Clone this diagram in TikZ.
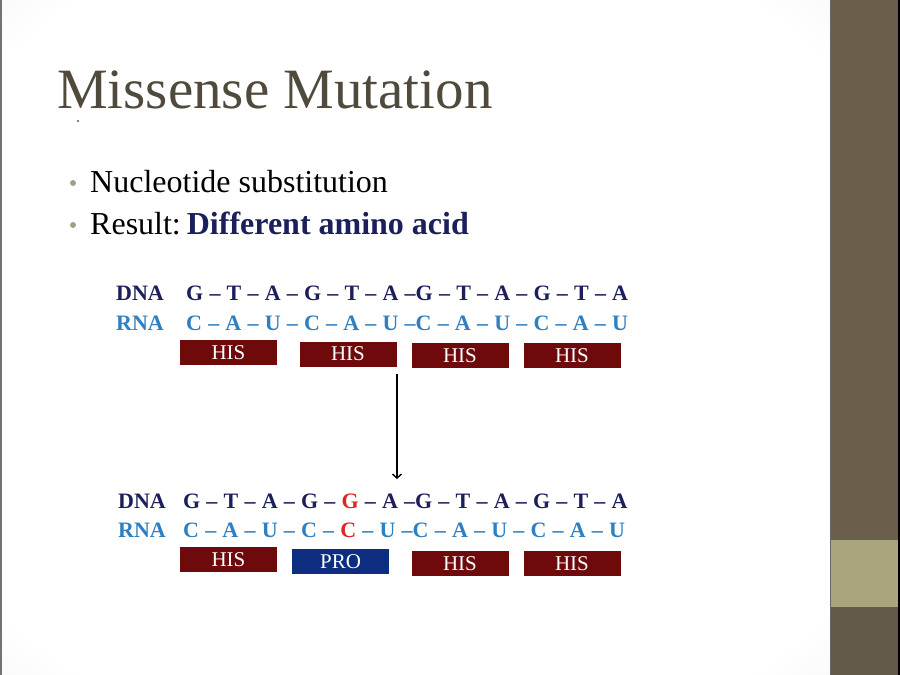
\documentclass[tikz,border=0pt]{standalone}
\usepackage{fontspec}
\setmainfont{Liberation Serif}
\usetikzlibrary{arrows.meta}
\definecolor{titlegray}{HTML}{4F4A3B}
\definecolor{bulletgray}{HTML}{A3A08A}
\definecolor{navy}{HTML}{1B1F5C}
\definecolor{rnablue}{HTML}{2F7FC3}
\definecolor{mutred}{HTML}{E02424}
\definecolor{hisred}{HTML}{6E0A0C}
\definecolor{pronavy}{HTML}{0C2D80}
\definecolor{sidebrown}{HTML}{6B5E4B}
\definecolor{sidetan}{HTML}{A9A57C}
\definecolor{sidedark}{HTML}{635B4A}
\definecolor{edgegray}{HTML}{E4E4E4}
\definecolor{cornergray}{HTML}{D6D6D6}
\pgfdeclareradialshading{vignette}{\pgfpoint{0bp}{0bp}}{%
  color(0bp)=(white); color(32bp)=(white); color(50bp)=(edgegray); color(72bp)=(cornergray)}
\newcommand\seqfont{\fontsize{22}{26}\selectfont\bfseries\spaceskip 6.2pt\relax}
\tikzset{
  body/.style={anchor=base west, inner sep=0pt, font=\fontsize{32}{36}\selectfont},
  seq/.style={anchor=base west, inner sep=0pt, font=\seqfont},
  aabox/.style={minimum width=97pt, minimum height=25pt, inner sep=0pt, text=white,
    font=\fontsize{21}{24}\selectfont},
  his/.style={aabox, fill=hisred},
  pro/.style={aabox, fill=pronavy}
}
\begin{document}
\begin{tikzpicture}[x=1pt,y=-1pt]
  \useasboundingbox (0,0) rectangle (900,675);
  % slide background
  \shade[shading=vignette] (0,0) rectangle (830,675);
  \draw[black!55, line width=1.5] (0.75,0) -- (0.75,675);
  \fill[sidebrown] (830,0) rectangle (900,675);
  \fill[sidetan] (830,540) rectangle (898,607);
  \fill[sidedark] (830,607) rectangle (898,675);
  \draw[black!60, line width=1] (830,0) -- (830,675);
  \draw[black, line width=2] (899,0) -- (899,675);

  % title and bullets
  \node[anchor=base west, inner sep=0pt, text=titlegray, font=\fontsize{57}{60}\selectfont]
    (title) at (57,108) {Missense Mutation};
  \fill (78,121) circle (0.9);
  \fill[bulletgray] (73,183) circle (3);
  \node[body] (nucl) at (90,192) {Nucleotide substitution};
  \fill[bulletgray] (73,225) circle (3);
  \node[body] (res) at (90,234) {Result:\hspace{6pt}{\bfseries\color{navy}Different amino acid}};

  % original sequence
  \node[seq, text=navy] (dna1) at (116,300) {DNA};
  \node[seq, text=navy] (dnaseq1) at (186,300) {G – T – A – G – T – A –G – T – A – G – T – A};
  \node[seq, text=rnablue] (rna1) at (116,330) {RNA};
  \node[seq, text=rnablue] (rnaseq1) at (186,330) {C – A – U – C – A – U –C – A – U – C – A – U};
  \node[his] (hisa) at (228.5,352.5) {HIS};
  \node[his] (hisb) at (348,354) {HIS};
  \node[his] (hisc) at (460,355.5) {HIS};
  \node[his] (hisd) at (572,355.5) {HIS};

  \coordinate (arrtop) at (397,374);
  \coordinate (arrbot) at (397,479);
  \draw[-{Straight Barb[length=4pt,width=9pt]}, line width=1.4] (arrtop) -- (arrbot);

  % mutated sequence
  \node[seq, text=navy] (dna2) at (118,508) {DNA};
  \node[seq, text=navy] (dnaseq2) at (183,508) {G – T – A – G – {\color{mutred}G} – A –G – T – A – G – T – A};
  \node[seq, text=rnablue] (rna2) at (118,537) {RNA};
  \node[seq, text=rnablue] (rnaseq2) at (183,537) {C – A – U – C – {\color{mutred}C} – U –C – A – U – C – A – U};
  \node[his] (hise) at (228.5,559.5) {HIS};
  \node[pro] (prof) at (340.5,561.5) {PRO};
  \node[his] (hisg) at (460,563.5) {HIS};
  \node[his] (hish) at (572,563.5) {HIS};
\end{tikzpicture}
\end{document}
